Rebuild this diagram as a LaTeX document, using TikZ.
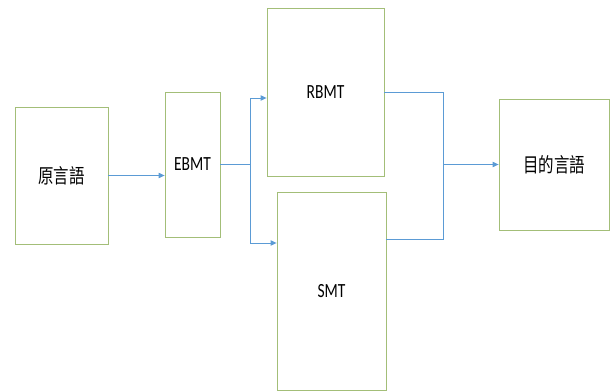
\documentclass[tikz,border=0pt]{standalone}
\usepackage{fontspec}
\setmainfont{Carlito}
\newfontfamily\cjk{Noto Sans CJK TC}
\usetikzlibrary{positioning,arrows.meta,calc}
\definecolor{cBox}{HTML}{A3BE78}
\definecolor{cLine}{HTML}{5B9BD5}
\newcommand{\vtxt}[1]{\scalebox{1}[1.3]{#1}}
\tikzset{
  box/.style={draw=cBox,line width=0.6pt,fill=white,inner sep=0pt,font=\fontsize{11.6}{13}\selectfont},
  conn/.style={draw=cLine,line width=0.7pt},
  arr/.style={conn,-{Triangle[length=4.5pt,width=4pt]}}}
\begin{document}
\begin{tikzpicture}[x=0.75pt,y=-0.75pt]
\useasboundingbox (0,0) rectangle (610,392);
\node[box,minimum width=93*0.75pt,minimum height=137*0.75pt] (src) at (61.5,175.5) {\vtxt{\cjk 原言語}};
\node[box,minimum width=55*0.75pt,minimum height=145*0.75pt] (ebmt) at (192.5,164.5) {\vtxt{EBMT}};
\node[box,minimum width=117*0.75pt,minimum height=168*0.75pt] (rbmt) at (325.5,92) {\vtxt{RBMT}};
\node[box,minimum width=109*0.75pt,minimum height=198*0.75pt] (smt) at (331.5,291.5) {\vtxt{SMT}};
\node[box,minimum width=110*0.75pt,minimum height=131*0.75pt] (tgt) at (554,164.5) {\vtxt{\cjk 目的言語}};
\coordinate (split) at (250,164.5);
\coordinate (merge) at (443,164.5);
\draw[arr] (src.east) -- (ebmt.west |- src.east);
\draw[conn] (ebmt.east) -- (split);
\draw[arr] (split) |- (rbmt.west |- 0,98);
\draw[arr] (split) |- (smt.west |- 0,243);
\draw[conn] (rbmt.east) -| (merge);
\draw[conn] (smt.east |- 0,239) -| (merge);
\draw[arr] (merge) -- (tgt.west);
\end{tikzpicture}
\end{document}
